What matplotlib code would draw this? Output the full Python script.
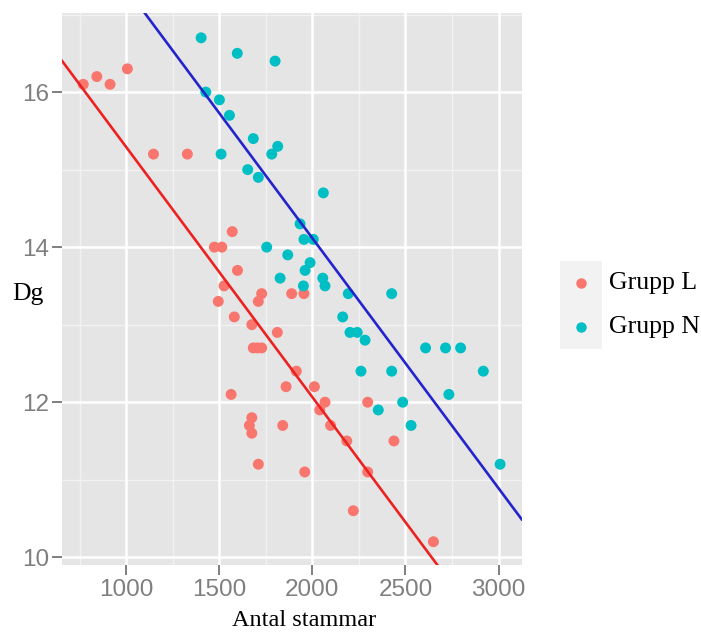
import matplotlib
matplotlib.use("Agg")
import matplotlib.pyplot as plt
from matplotlib.patches import Rectangle
from matplotlib.lines import Line2D

# ---- data ----
group_L_x = [770, 843, 914, 1007, 1147, 1329, 1570, 1474, 1514, 1598, 1526, 1728, 1889, 1955,
             1495, 1710, 1581, 1675, 1683, 1705, 1728, 1812, 1914, 1859, 2011, 2068, 2040, 2098,
             1564, 1675, 1662, 1675, 1841, 1710, 1959, 2185, 2297, 2438, 2297, 2220, 2650]
group_L_y = [16.1, 16.2, 16.1, 16.3, 15.2, 15.2, 14.2, 14.0, 14.0, 13.7, 13.5, 13.4, 13.4, 13.4,
             13.3, 13.3, 13.1, 13.0, 12.7, 12.7, 12.7, 12.9, 12.4, 12.2, 12.2, 12.0, 11.9, 11.7,
             12.1, 11.8, 11.7, 11.6, 11.7, 11.2, 11.1, 11.5, 12.0, 11.5, 11.1, 10.6, 10.2]

group_N_x = [1403, 1597, 1800, 1428, 1501, 1555, 1683, 1814, 1782, 1510, 1653, 1710, 2059, 1934,
             1955, 2005, 1755, 1868, 1988, 1961, 1827, 2056, 2068, 1952, 2193, 2426, 2163, 2202,
             2241, 2283, 2608, 2715, 2796, 2261, 2426, 2918, 2733, 2485, 2354, 2530, 3008]
group_N_y = [16.7, 16.5, 16.4, 16.0, 15.9, 15.7, 15.4, 15.3, 15.2, 15.2, 15.0, 14.9, 14.7, 14.3,
             14.1, 14.1, 14.0, 13.9, 13.8, 13.7, 13.6, 13.6, 13.5, 13.5, 13.4, 13.4, 13.1, 12.9,
             12.9, 12.8, 12.7, 12.7, 12.7, 12.4, 12.4, 12.4, 12.1, 12.0, 11.9, 11.7, 11.2]

# fitted lines (common slope, group intercepts)
fit_slope = -0.003227
fit_intercept_L = 18.52
fit_intercept_N = 20.57

group_labels = ["Grupp L", "Grupp N"]
x_ticks = [1000, 1500, 2000, 2500, 3000]
y_ticks = [10, 12, 14, 16]
x_minor = [750, 1250, 1750, 2250, 2750]
y_minor = [11, 13, 15, 17]

# ---- style ----
col_L = "#F8766D"
col_N = "#00BFC4"
line_L = "#EC2222"
line_N = "#2424CC"

W, H = 701, 632
fig = plt.figure(figsize=(W / 100, H / 100), dpi=100)
left, right, top, bottom = 62, 521.7, 13, 565
ax = fig.add_axes([left / W, 1 - bottom / H, (right - left) / W, (bottom - top) / H])
ax.set_facecolor("#E5E5E5")
ax.set_xlim(656, 3124)
ax.set_ylim(9.9, 17.02)

for v in x_minor:
    ax.axvline(v, color="#F2F2F2", lw=1.0, zorder=0.5)
for v in y_minor:
    ax.axhline(v, color="#F2F2F2", lw=1.0, zorder=0.5)
for v in x_ticks:
    ax.axvline(v, color="white", lw=1.8, zorder=0.6)
for v in y_ticks:
    ax.axhline(v, color="white", lw=1.8, zorder=0.6)

for s in ax.spines.values():
    s.set_visible(False)

sc_L = ax.scatter(group_L_x, group_L_y, s=62, color=col_L, edgecolors="none", zorder=2)
sc_N = ax.scatter(group_N_x, group_N_y, s=62, color=col_N, edgecolors="none", zorder=2)

ax.axline((0, fit_intercept_L), slope=fit_slope, color=line_L, lw=1.9, zorder=3)
ax.axline((0, fit_intercept_N), slope=fit_slope, color=line_N, lw=1.9, zorder=3)

ax.set_xticks(x_ticks)
ax.set_yticks(y_ticks)
ax.set_xticklabels([str(t) for t in x_ticks])
ax.set_yticklabels([str(t) for t in y_ticks])
ax.tick_params(axis="both", colors="#7F7F7F", length=7, width=1.4, labelsize=17.5)
ax.tick_params(axis="x", pad=3)
ax.tick_params(axis="y", pad=2.5)
for lab in ax.get_xticklabels() + ax.get_yticklabels():
    lab.set_fontfamily("Liberation Sans")
    lab.set_color("#7F7F7F")

ax.set_xlabel("Antal stammar", fontsize=17.5, family="Liberation Serif", color="black")
ax.xaxis.set_label_coords((304 - left) / (right - left), (bottom - 620) / (bottom - top))
ax.xaxis.label.set_va("center")
ax.set_ylabel("Dg", fontsize=18.5, family="Liberation Serif", color="black", rotation=0)
ax.yaxis.set_label_coords((28 - left) / (right - left), (bottom - 294) / (bottom - top))
ax.yaxis.label.set_va("center")
ax.yaxis.label.set_ha("center")

# legend with key backgrounds
key_x0, key_w, key_h = 560, 42, 44
key_tops = [261, 305]
for kt in key_tops:
    fig.patches.append(Rectangle((key_x0 / W, 1 - (kt + key_h) / H), key_w / W, key_h / H,
                                 transform=fig.transFigure, facecolor="#F2F2F2",
                                 edgecolor="none", zorder=0))
for kt, lab, c in zip(key_tops, group_labels, [col_L, col_N]):
    cy = 1 - (kt + key_h / 2) / H
    fig.add_artist(Line2D([(key_x0 + key_w / 2) / W], [cy], marker="o", markersize=7.5,
                          color=c, markeredgewidth=0, linestyle="none",
                          transform=fig.transFigure))
    fig.text(609 / W, cy, lab, fontsize=18.5, family="Liberation Serif", color="black",
             va="center", ha="left")

fig.savefig("out.png", dpi=100, facecolor="white")
